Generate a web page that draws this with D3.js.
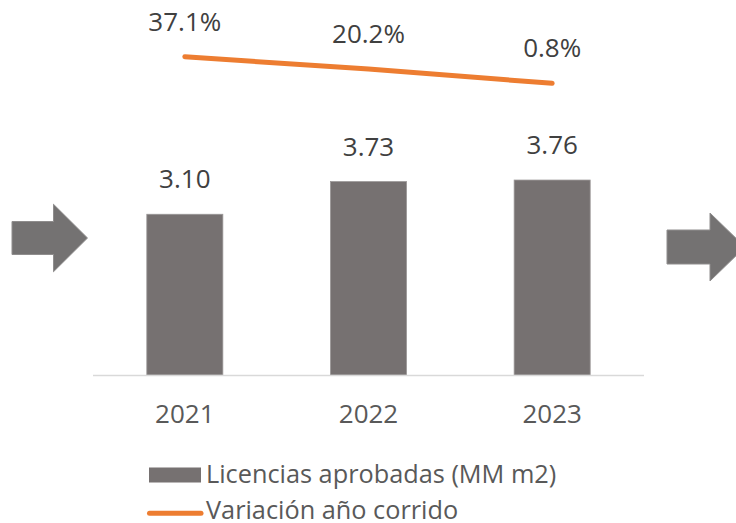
<!DOCTYPE html>
<html>
<head>
<meta charset="utf-8">
<script src="https://cdn.jsdelivr.net/npm/d3@7/dist/d3.min.js"></script>
<style>
  html, body { margin: 0; padding: 0; background: #fff; }
  svg { display: block; font-family: "Open Sans", "Noto Sans", sans-serif; }
</style>
</head>
<body>
<svg id="chart" width="736" height="523"></svg>
<script>
// Datos
const years     = ["2021", "2022", "2023"];
const licencias = [3.10, 3.73, 3.76];      // MM m2
const variacion = [37.1, 20.2, 0.8];       // %
const legendLabels = ["Licencias aprobadas (MM m2)", "Variación año corrido"];

// Colores
const barColor  = "#767171";
const lineColor = "#ED7D31";
const textColor = "#404040";
const axisText  = "#595959";

const svg = d3.select("#chart");
const fontSize = 26;

// Escalas
const x = d3.scaleBand().domain(years).range([93, 644]).padding(0);
const barW = x.bandwidth() * 0.414;
const y  = d3.scaleLinear().domain([0, 4]).range([375, 167.6]);
const y2 = d3.scaleLinear().domain([0, 40]).range([83.9, 54.6]);
const cx = d => x(d) + x.bandwidth() / 2;

// Flechas decorativas
const arrow = (x0, yMid, shaftLen, shaftH, headLen, headH) => {
  const p = d3.path();
  p.moveTo(x0, yMid - shaftH / 2);
  p.lineTo(x0 + shaftLen, yMid - shaftH / 2);
  p.lineTo(x0 + shaftLen, yMid - headH / 2);
  p.lineTo(x0 + shaftLen + headLen, yMid);
  p.lineTo(x0 + shaftLen, yMid + headH / 2);
  p.lineTo(x0 + shaftLen, yMid + shaftH / 2);
  p.lineTo(x0, yMid + shaftH / 2);
  p.closePath();
  return p.toString();
};
svg.append("path").attr("d", arrow(12, 238, 41.5, 33, 34, 67.5))
  .attr("fill", "#747272").attr("stroke", "#8f8d8d").attr("stroke-width", 1);
svg.append("path").attr("d", arrow(667, 247, 43, 34, 35, 68))
  .attr("fill", "#747272").attr("stroke", "#8f8d8d").attr("stroke-width", 1);

// Barras
svg.append("g").selectAll("rect")
  .data(licencias)
  .join("rect")
  .attr("x", (d, i) => cx(years[i]) - barW / 2)
  .attr("y", d => y(d))
  .attr("width", barW)
  .attr("height", d => y(0) - y(d))
  .attr("fill", barColor)
  .attr("stroke", "#9a9696")
  .attr("stroke-width", 0.8);

// Eje X
svg.append("line")
  .attr("x1", 93).attr("x2", 644)
  .attr("y1", y(0) + 0.5).attr("y2", y(0) + 0.5)
  .attr("stroke", "#d9d9d9").attr("stroke-width", 1.5);

svg.append("g").selectAll("text")
  .data(years)
  .join("text")
  .attr("x", d => cx(d))
  .attr("y", 423)
  .attr("text-anchor", "middle")
  .attr("font-size", fontSize)
  .attr("fill", axisText)
  .text(d => d);

// Etiquetas de barras
svg.append("g").selectAll("text")
  .data(licencias)
  .join("text")
  .attr("x", (d, i) => cx(years[i]))
  .attr("y", d => y(d) - 26)
  .attr("text-anchor", "middle")
  .attr("font-size", fontSize)
  .attr("fill", textColor)
  .text(d => d.toFixed(2));

// Línea de variación
const line = d3.line()
  .x((d, i) => cx(years[i]))
  .y(d => y2(d));

svg.append("path")
  .datum(variacion)
  .attr("d", line)
  .attr("fill", "none")
  .attr("stroke", lineColor)
  .attr("stroke-width", 5)
  .attr("stroke-linecap", "round");

svg.append("g").selectAll("text")
  .data(variacion)
  .join("text")
  .attr("x", (d, i) => cx(years[i]))
  .attr("y", d => y2(d) - 26)
  .attr("text-anchor", "middle")
  .attr("font-size", fontSize)
  .attr("fill", textColor)
  .text(d => d.toFixed(1) + "%");

// Leyenda
const leg = svg.append("g");
leg.append("rect")
  .attr("x", 149).attr("y", 467.5)
  .attr("width", 52).attr("height", 15)
  .attr("fill", barColor);
leg.append("line")
  .attr("x1", 149.5).attr("x2", 201)
  .attr("y1", 513.3).attr("y2", 513.3)
  .attr("stroke", lineColor).attr("stroke-width", 5)
  .attr("stroke-linecap", "round");
leg.selectAll("text")
  .data(legendLabels)
  .join("text")
  .attr("x", 206)
  .attr("y", (d, i) => i === 0 ? 482.5 : 519)
  .attr("font-size", 25.3)
  .attr("fill", axisText)
  .text(d => d);
</script>
</body>
</html>
